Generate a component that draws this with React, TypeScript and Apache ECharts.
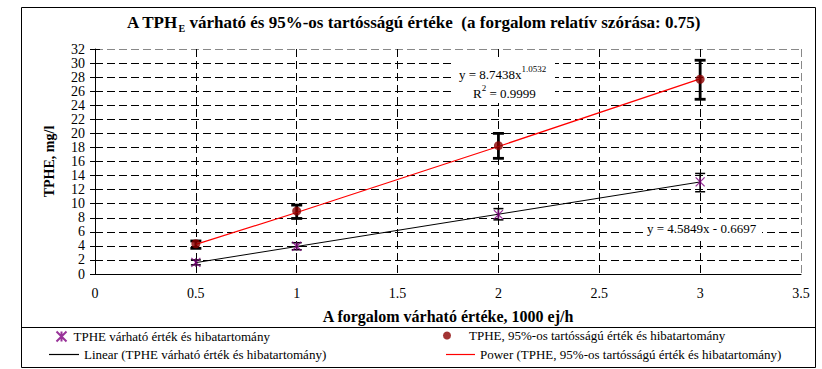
import React, { useEffect, useRef } from "react";
import * as echarts from "echarts";

const xValues = [0.5, 1, 2, 3];
const expectedValues = [1.65, 3.95, 8.45, 13.1];
const expectedLow = [1.3, 3.45, 7.7, 11.7];
const expectedHigh = [2.0, 4.45, 9.3, 14.3];
const p95Values = [4.3, 8.95, 18.25, 27.7];
const p95Low = [3.65, 7.9, 16.45, 24.85];
const p95High = [4.7, 9.8, 20.0, 30.4];
const linearTrendX = [0.5, 3];
const linearTrendY = [1.62, 13.09];
const powerTrendX = [0.5, 1, 2, 3];
const powerTrendY = [4.22, 8.74, 18.14, 27.76];
const yTicks = [0, 2, 4, 6, 8, 10, 12, 14, 16, 18, 20, 22, 24, 26, 28, 30, 32];
const xTicks = [0, 0.5, 1, 1.5, 2, 2.5, 3, 3.5];

const S1 = "TPHE várható érték és hibatartomány";
const S2 = "TPHE, 95%-os tartósságú érték és hibatartomány";
const S3 = "Linear (TPHE várható érték és hibatartomány)";
const S4 = "Power (TPHE, 95%-os tartósságú érték és hibatartomány)";

const FONT = "'Liberation Serif', 'Times New Roman', serif";

function errRender(lw: number, hw: number) {
  return (params: any, api: any) => {
    const x = api.value(0);
    const lo = api.coord([x, api.value(1)]);
    const hi = api.coord([x, api.value(2)]);
    const st = { stroke: "#000", lineWidth: lw };
    return {
      type: "group",
      children: [
        { type: "line", shape: { x1: lo[0], y1: lo[1], x2: hi[0], y2: hi[1] }, style: st },
        { type: "line", shape: { x1: lo[0] - hw, y1: lo[1], x2: lo[0] + hw, y2: lo[1] }, style: st },
        { type: "line", shape: { x1: hi[0] - hw, y1: hi[1], x2: hi[0] + hw, y2: hi[1] }, style: st },
      ],
    };
  };
}

export default function App() {
  const ref = useRef<HTMLDivElement>(null);
  useEffect(() => {
    if (!ref.current) return;
    const chart = echarts.init(ref.current, undefined, { renderer: "svg" });
    const ySplitColors = yTicks.map((_, i) => (i === yTicks.length - 1 ? "#888" : "#000"));
    const xSplitColors = xTicks.map((_, i) => (i === xTicks.length - 1 ? "#888" : "#000"));
    const legendText = { fontFamily: FONT, fontSize: 13, color: "#000" };
    const supRich = {
      n: { fontFamily: FONT, fontSize: 13, fill: "#000", color: "#000", lineHeight: 20 },
      s: { fontFamily: FONT, fontSize: 9, fill: "#000", color: "#000", lineHeight: 9, verticalAlign: "top" },
    };
    chart.setOption({
      animation: false,
      backgroundColor: "#fff",
      textStyle: { fontFamily: FONT },
      title: {
        text: "{t|A TPH}{s|E}{t| várható és 95%-os tartósságú értéke  (a forgalom relatív szórása: 0.75)}",
        left: 127,
        top: 11,
        padding: 0,
        textStyle: {
          rich: {
            t: { fontFamily: FONT, fontSize: 17, fontWeight: "bold", color: "#000", lineHeight: 22 },
            s: { fontFamily: FONT, fontSize: 10, fontWeight: "bold", color: "#000", verticalAlign: "bottom", lineHeight: 10 },
          },
        },
      },
      grid: { left: 95, top: 49, right: 21, bottom: 95, containLabel: false },
      xAxis: {
        type: "value",
        min: 0,
        max: 3.5,
        interval: 0.5,
        name: "A forgalom várható értéke, 1000 ej/h",
        nameLocation: "middle",
        nameGap: 34,
        nameTextStyle: { fontFamily: FONT, fontSize: 16, fontWeight: "bold", color: "#000" },
        axisLine: { show: true, onZero: false, lineStyle: { color: "#000", width: 1 } },
        axisTick: { show: false },
        axisLabel: { fontFamily: FONT, fontSize: 14, color: "#000", margin: 12 },
        splitLine: { show: true, lineStyle: { color: xSplitColors, width: 1, type: [8, 4] } },
      },
      yAxis: [
        {
          type: "value",
          min: 0,
          max: 32,
          interval: 2,
          name: "TPHE, mg/l",
          nameLocation: "middle",
          nameGap: 39,
          nameTextStyle: { fontFamily: FONT, fontSize: 14, fontWeight: "bold", color: "#000" },
          axisLine: { show: true, lineStyle: { color: "#000", width: 1 } },
          axisTick: { show: true, length: 5, lineStyle: { color: "#000" } },
          axisLabel: { fontFamily: FONT, fontSize: 14, color: "#000", margin: 10 },
          splitLine: { show: true, lineStyle: { color: ySplitColors, width: 1, type: [8, 4] } },
        },
        {
          type: "value",
          min: 0,
          max: 32,
          interval: 2,
          position: "left",
          axisLine: { show: false },
          axisTick: { show: true, inside: true, length: 5, lineStyle: { color: "#000" } },
          axisLabel: { show: false },
          splitLine: { show: false },
        },
      ],
      legend: [
        { data: [S1], left: 54, top: 329, padding: 0, itemWidth: 14, itemHeight: 10, textStyle: legendText, selectedMode: false },
        { data: [{ name: S3, icon: "rect" }], left: 49, top: 348, padding: 0, itemWidth: 30, itemHeight: 1.2, textStyle: legendText, selectedMode: false },
        { data: [S2], left: 443, top: 329, padding: 0, itemWidth: 34, itemHeight: 8, textStyle: legendText, selectedMode: false },
        { data: [{ name: S4, icon: "rect" }], left: 446, top: 348, padding: 0, itemWidth: 29, itemHeight: 1.2, textStyle: legendText, selectedMode: false },
      ],
      series: [
        {
          name: "err1",
          type: "custom",
          renderItem: errRender(1.5, 5),
          encode: { x: 0, y: [1, 2] },
          data: xValues.map((x, i) => [x, expectedLow[i], expectedHigh[i]]),
          z: 3,
        },
        {
          name: "err2",
          type: "custom",
          renderItem: errRender(2.8, 5.5),
          encode: { x: 0, y: [1, 2] },
          data: xValues.map((x, i) => [x, p95Low[i], p95High[i]]),
          z: 3,
        },
        {
          name: S3,
          type: "line",
          symbol: "none",
          data: linearTrendX.map((x, i) => [x, linearTrendY[i]]),
          lineStyle: { color: "#000", width: 1 },
          itemStyle: { color: "#000" },
          z: 4,
        },
        {
          name: S4,
          type: "line",
          symbol: "none",
          data: powerTrendX.map((x, i) => [x, powerTrendY[i]]),
          lineStyle: { color: "#ff0000", width: 1.2 },
          itemStyle: { color: "#ff0000" },
          z: 4,
        },
        {
          name: S1,
          type: "scatter",
          symbol: "path://M0,0L10,10M10,0L0,10M5,0L5,10",
          symbolSize: [9, 9],
          data: xValues.map((x, i) => [x, expectedValues[i]]),
          itemStyle: { color: "none", borderColor: "#800080", borderWidth: 1.3 },
          z: 5,
        },
        {
          name: S2,
          type: "scatter",
          symbol: "circle",
          symbolSize: 9,
          data: xValues.map((x, i) => [x, p95Values[i]]),
          itemStyle: { color: "#8b0000" },
          z: 5,
        },
      ],
      graphic: [
        {
          type: "rect",
          shape: { x: 21.5, y: 7.5, width: 794, height: 360 },
          style: { fill: "none", stroke: "#000", lineWidth: 1 },
          z: 1,
        },
        {
          type: "line",
          shape: { x1: 21.5, y1: 327.5, x2: 815.5, y2: 327.5 },
          style: { stroke: "#000", lineWidth: 1 },
          z: 1,
        },
        {
          type: "rect",
          shape: { x: 455, y: 59, width: 100, height: 44 },
          style: { fill: "#fff" },
          z: 2,
        },
        {
          type: "text",
          x: 459,
          y: 74,
          style: { text: "{n|y = 8.7438x}{s|1.0532}", textVerticalAlign: "middle", rich: supRich },
          z: 3,
        },
        {
          type: "text",
          x: 473,
          y: 93,
          style: { text: "{n|R}{s|2}{n| = 0.9999}", textVerticalAlign: "middle", rich: supRich },
          z: 3,
        },
        {
          type: "rect",
          shape: { x: 643, y: 219, width: 119, height: 18 },
          style: { fill: "#fff" },
          z: 2,
        },
        {
          type: "text",
          x: 647,
          y: 228,
          style: {
            text: "y = 4.5849x - 0.6697",
            font: `13px ${FONT}`,
            fill: "#000",
            textVerticalAlign: "middle",
          },
          z: 3,
        },
      ],
    });
    return () => chart.dispose();
  }, []);
  return (
    <div
      ref={ref}
      style={{ position: "fixed", left: 0, top: 0, width: 822, height: 369, background: "#fff" }}
    />
  );
}
